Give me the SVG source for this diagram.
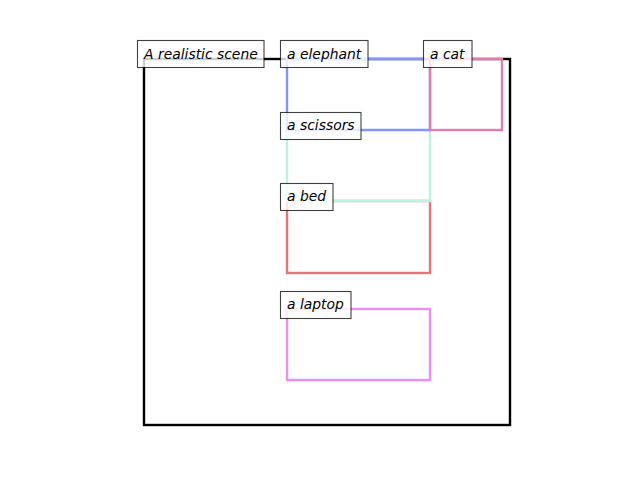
<svg xmlns="http://www.w3.org/2000/svg" width="640" height="480" viewBox="0 0 640 480">
<style>
.box{fill:none;stroke-width:2.4;stroke-linejoin:miter}
.lbl rect{fill:#ffffff;fill-opacity:0.8;stroke:#000;stroke-opacity:0.75;stroke-width:1.1}
.lbl text{font-family:"DejaVu Sans",sans-serif;font-style:oblique;font-size:13.9px;fill:#000}
</style>
<rect width="640" height="480" fill="#fff"/>
<g id="connectors"></g>
<g id="scene"><rect class="box" x="144" y="59" width="366" height="366" stroke="#000"/></g>
<g id="laptop"><rect class="box" x="287" y="309" width="143" height="71" stroke="#f08cf0"/></g>
<g id="bed"><rect class="box" x="287" y="201" width="143" height="72" stroke="#e8747a"/></g>
<g id="scissors"><rect class="box" x="287" y="130" width="143" height="71" stroke="#bcf2e4"/></g>
<g id="elephant"><rect class="box" x="287" y="59" width="143" height="71" stroke="#8494fa"/></g>
<g id="cat"><rect class="box" x="430" y="59" width="72" height="71" stroke="#e07cae"/></g>
<g id="labels">
<g class="lbl" id="label-scene"><rect x="137.5" y="40.5" width="126.5" height="27"/><text x="144" y="58.5">A realistic scene</text></g>
<g class="lbl" id="label-elephant"><rect x="280.5" y="40.5" width="87.5" height="27"/><text x="287" y="58.5">a elephant</text></g>
<g class="lbl" id="label-cat"><rect x="423.5" y="40.5" width="48.5" height="27"/><text x="430" y="58.5">a cat</text></g>
<g class="lbl" id="label-scissors"><rect x="280.5" y="112.5" width="80.5" height="27"/><text x="287" y="130">a scissors</text></g>
<g class="lbl" id="label-bed"><rect x="280.5" y="183.5" width="52.5" height="27"/><text x="287" y="201">a bed</text></g>
<g class="lbl" id="label-laptop"><rect x="280.5" y="291.5" width="70.5" height="27"/><text x="287" y="309">a laptop</text></g>
</g>
</svg>
